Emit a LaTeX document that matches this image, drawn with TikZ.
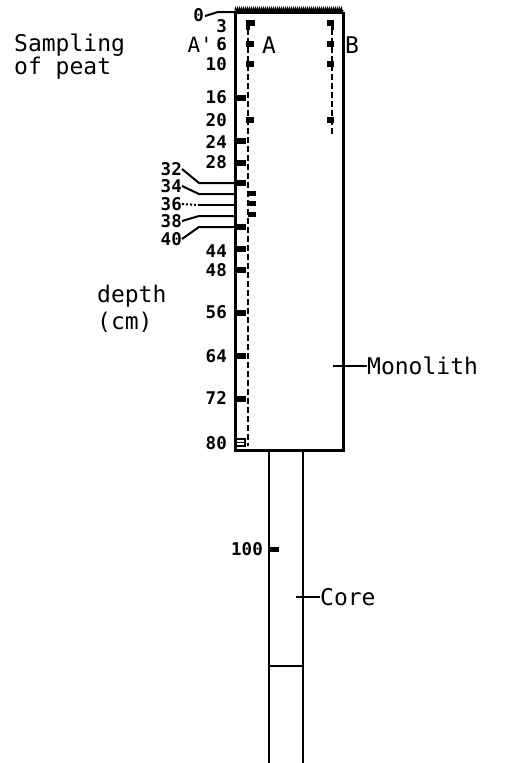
\documentclass[tikz,border=0pt]{standalone}
\usepackage{fontspec}
\setmonofont{DejaVu Sans Mono}
\usetikzlibrary{decorations.pathmorphing}
\begin{document}
\begin{tikzpicture}[x=1pt,y=-1pt,
  txt/.style={font=\ttfamily\fontsize{23}{25}\selectfont, inner sep=0pt},
  num/.style={font=\ttfamily\bfseries\fontsize{17.5}{19}\selectfont, inner sep=0pt, anchor=east},
  edge/.style={line width=3pt},
  coreline/.style={line width=2.8pt},
  lead/.style={line width=2pt},
  dashline/.style={line width=2.5pt, dash pattern=on 6pt off 3pt}]
\useasboundingbox (0,0) rectangle (519,763);
% monolith box
\coordinate (TL) at (235,12);
\coordinate (TR) at (343,12);
\coordinate (BL) at (235,450);
\coordinate (BR) at (343,450);
\draw[edge] (TL) -- (BL) -- (BR) -- (TR);
\draw[line width=3pt] (TL) -- (TR);
\draw[decorate, decoration={zigzag, segment length=2pt, amplitude=1.8pt}, line width=1.2pt] (235,10) -- (343,10);
% core
\coordinate (C1) at (269,450);
\coordinate (C2) at (303,450);
\coordinate (C1b) at (269,763);
\coordinate (C2b) at (303,763);
\draw[coreline] (C1) -- (C1b);
\draw[coreline] (C2) -- (C2b);
\draw[coreline] (269,666) -- (303,666);
% sampling columns
\draw[dashline] (248,20) -- (248,446);
\draw[dashline] (332,20) -- (332,134);
% left edge ticks
\foreach \y in {98,141,163,183,227,249,270,313,356,399}
  \fill (235,\y-2.8) rectangle (246,\y+2.8);
% column A marks
\fill (246,20) rectangle (249.5,30);
\fill (246,20) rectangle (255,25.5);
\foreach \y in {44,64,120}
  \fill (246,\y-2.8) rectangle (254,\y+2.8);
\foreach \y in {193,203.5,214}
  \fill (248,\y-2.5) rectangle (256,\y+2.5);
% column B marks
\fill (330.5,20) rectangle (334,30);
\fill (327,20) rectangle (334,25.5);
\foreach \y in {44,64,120}
  \fill (327,\y-2.8) rectangle (334,\y+2.8);
% bottom mark at 80
\draw[line width=1.2pt] (237,439) -- (245,439) -- (245,446) -- (237,446);
\draw[line width=1.2pt] (237,442.5) -- (244,442.5);
% core mark 100
\fill (269,546.5) rectangle (279,551.5);
% depth labels
\node[num] (d0) at (204,15) {0};
\node[num] (d3) at (227,26) {3};
\node[num] (d6) at (227,44) {6};
\node[num] (d10) at (227,64) {10};
\node[num] (d16) at (227,97) {16};
\node[num] (d20) at (227,120) {20};
\node[num] (d24) at (227,142) {24};
\node[num] (d28) at (227,162) {28};
\node[num] (d44) at (227,251) {44};
\node[num] (d48) at (227,270) {48};
\node[num] (d56) at (227,312) {56};
\node[num] (d64) at (227,356) {64};
\node[num] (d72) at (227,398) {72};
\node[num] (d80) at (227,443) {80};
\node[num] (d100) at (263,549) {100};
\draw[lead] (d0.east) ++(1,1) coordinate (z0) (z0) -- (218,12) -- (TL);
% labelled leaders
\node[num] (l32) at (182,169) {32};
\node[num] (l34) at (182,186) {34};
\node[num] (l36) at (182,204) {36};
\node[num] (l38) at (182,221) {38};
\node[num] (l40) at (182,239) {40};
\coordinate (e32) at (236,183);
\coordinate (e34) at (236,194);
\coordinate (e36) at (236,205);
\coordinate (e38) at (236,216);
\coordinate (e40) at (236,227);
\draw[lead] (l32.east) -- (199,183) -- (e32);
\draw[lead] (l34.east) -- (199,194) -- (e34);
\draw[lead, dotted] (l36.east) -- (199,205);
\draw[lead] (199,205) -- (e36);
\draw[lead] (l38.east) -- (199,216) -- (e38);
\draw[lead] (l40.east) -- (199,227) -- (e40);
% texts
\node[font=\ttfamily\fontsize{21}{23}\selectfont, inner sep=0pt, anchor=east] (Ap) at (213,45) {A'};
\node[txt, anchor=west] (samp) at (14,45) {Sampling};
\node[txt, anchor=west] (peat) at (14,68) {of peat};
\node[txt] (A) at (269,45) {A};
\node[txt] (B) at (352,45) {B};
\node[txt, anchor=west] (dep) at (97,296) {depth};
\node[txt, anchor=west] (cm) at (97,322) {(cm)};
\node[txt, anchor=west] (mono) at (367,366) {Monolith};
\node[txt, anchor=west] (core) at (320,597) {Core};
\coordinate (m1) at (333,366);
\coordinate (k1) at (296,597);
\draw[lead] (m1) -- (mono.west);
\draw[lead] (k1) -- (core.west);
\end{tikzpicture}
\end{document}
